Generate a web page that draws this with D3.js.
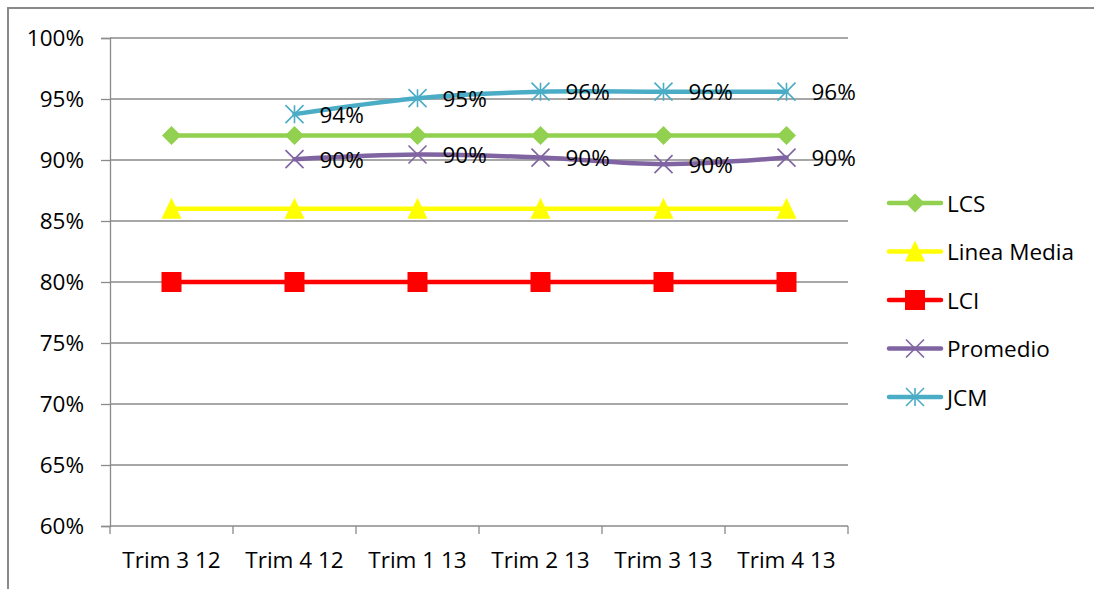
<!DOCTYPE html>
<html>
<head>
<meta charset="utf-8">
<script src="https://cdn.jsdelivr.net/npm/d3@7"></script>
<style>
  html, body { margin: 0; padding: 0; background: #fff; }
  svg { display: block; font-family: "Open Sans", "Liberation Sans", sans-serif; }
</style>
</head>
<body>
<svg id="chart" width="1094" height="589"></svg>
<script>
// Quarterly categories
const categories = ["Trim 3 12", "Trim 4 12", "Trim 1 13", "Trim 2 13", "Trim 3 13", "Trim 4 13"];

// Series values (fractions); null = no data for that quarter
const lcs        = [0.92, 0.92, 0.92, 0.92, 0.92, 0.92];
const lineaMedia = [0.86, 0.86, 0.86, 0.86, 0.86, 0.86];
const lci        = [0.80, 0.80, 0.80, 0.80, 0.80, 0.80];
const promedio   = [null, 0.9007, 0.9045, 0.902, 0.8966, 0.902];
const jcm        = [null, 0.9376, 0.9507, 0.956, 0.956, 0.956];

// Y axis tick values
const yTicks = [0.60, 0.65, 0.70, 0.75, 0.80, 0.85, 0.90, 0.95, 1.00];

const series = [
  { name: "LCS",         values: lcs,        color: "#92D050", marker: "diamond",  smooth: false, labels: false },
  { name: "Linea Media", values: lineaMedia, color: "#FFFF00", marker: "triangle", smooth: false, labels: false },
  { name: "LCI",         values: lci,        color: "#FF0000", marker: "square",   smooth: false, labels: false },
  { name: "Promedio",    values: promedio,   color: "#8064A2", marker: "x",        smooth: true,  labels: true },
  { name: "JCM",         values: jcm,        color: "#4BACC6", marker: "star",     smooth: true,  labels: true }
];

const FONT_SIZE = 22.5;

const svg = d3.select("#chart");
const plot = { left: 110, right: 848, top: 38, bottom: 526 };

// Outer frame (top and left edges)
svg.append("path")
  .attr("d", `M8,589 L8,8 L1094,8`)
  .attr("fill", "none")
  .attr("stroke", "#8a8a8a")
  .attr("stroke-width", 2);

const x = d3.scaleBand().domain(categories).range([plot.left, plot.right]).padding(0);
const y = d3.scaleLinear().domain([0.60, 1.00]).range([plot.bottom, plot.top]);
const cx = c => x(c) + x.bandwidth() / 2;

// Horizontal gridlines
svg.append("g")
  .selectAll("line")
  .data(yTicks.filter(t => t > 0.60))
  .join("line")
  .attr("x1", plot.left).attr("x2", plot.right)
  .attr("y1", d => y(d)).attr("y2", d => y(d))
  .attr("stroke", "#8a8a8a").attr("stroke-width", 1.3);

// Y axis
const yAxis = svg.append("g")
  .attr("transform", `translate(${plot.left},0)`)
  .call(d3.axisLeft(y).tickValues(yTicks).tickFormat(d3.format(".0%")).tickSize(9).tickPadding(17));
yAxis.select(".domain").attr("stroke", "#8a8a8a").attr("stroke-width", 1.3);
yAxis.selectAll(".tick line").attr("stroke", "#8a8a8a").attr("stroke-width", 1.3);
yAxis.selectAll(".tick text")
  .attr("font-size", FONT_SIZE).attr("fill", "#000")
  .attr("font-family", "'Open Sans', sans-serif")
  .attr("dy", "0.35em");

// X axis with ticks at category boundaries
const xAxisG = svg.append("g").attr("transform", `translate(0,${plot.bottom})`);
xAxisG.append("line")
  .attr("x1", plot.left).attr("x2", plot.right)
  .attr("stroke", "#8a8a8a").attr("stroke-width", 1.3);
const boundaries = categories.map(c => x(c)).concat([plot.right]);
xAxisG.selectAll("line.tick")
  .data(boundaries)
  .join("line")
  .attr("class", "tick")
  .attr("x1", d => d).attr("x2", d => d)
  .attr("y1", 0).attr("y2", 8)
  .attr("stroke", "#8a8a8a").attr("stroke-width", 1.3);
xAxisG.selectAll("text")
  .data(categories)
  .join("text")
  .attr("x", d => cx(d))
  .attr("y", 42)
  .attr("text-anchor", "middle")
  .attr("font-size", FONT_SIZE)
  .text(d => d);

// Marker drawing
function drawMarker(g, type, color, px, py) {
  if (type === "diamond") {
    const s = 9.5;
    g.append("path").attr("d", `M${px},${py - s} L${px + s},${py} L${px},${py + s} L${px - s},${py} Z`).attr("fill", color);
  } else if (type === "triangle") {
    g.append("path").attr("d", `M${px},${py - 11} L${px + 10},${py + 10} L${px - 10},${py + 10} Z`).attr("fill", color);
  } else if (type === "square") {
    g.append("rect").attr("x", px - 10).attr("y", py - 10).attr("width", 20).attr("height", 20).attr("fill", color);
  } else if (type === "x") {
    const s = 9;
    g.append("path").attr("d", `M${px - s},${py - s} L${px + s},${py + s} M${px - s},${py + s} L${px + s},${py - s}`)
      .attr("stroke", color).attr("stroke-width", 1.6).attr("fill", "none");
  } else if (type === "star") {
    const s = 9;
    g.append("path").attr("d", `M${px - s},${py - s} L${px + s},${py + s} M${px - s},${py + s} L${px + s},${py - s} M${px},${py - s} L${px},${py + s}`)
      .attr("stroke", color).attr("stroke-width", 1.6).attr("fill", "none");
  }
}

// Series lines, markers, labels
series.forEach(s => {
  const pts = categories.map((c, i) => ({ c, v: s.values[i] })).filter(p => p.v !== null);
  const line = d3.line()
    .x(p => cx(p.c))
    .y(p => y(p.v))
    .curve(s.smooth ? d3.curveCatmullRom.alpha(0.5) : d3.curveLinear);
  const g = svg.append("g");
  g.append("path")
    .datum(pts)
    .attr("d", line)
    .attr("fill", "none")
    .attr("stroke", s.color)
    .attr("stroke-width", 4.5)
    .attr("stroke-linejoin", "round")
    .attr("stroke-linecap", "round");
  pts.forEach(p => drawMarker(g, s.marker, s.color, cx(p.c), y(p.v)));
  if (s.labels) {
    g.selectAll("text")
      .data(pts)
      .join("text")
      .attr("x", p => cx(p.c) + 25)
      .attr("y", p => y(p.v) + 8.5)
      .attr("font-size", FONT_SIZE)
      .attr("fill", "#000")
      .text(p => d3.format(".0%")(p.v));
  }
});

// Legend
const legend = svg.append("g");
series.forEach((s, i) => {
  const ly = 203 + i * 48.5;
  const g = legend.append("g");
  g.append("line")
    .attr("x1", 889).attr("x2", 941)
    .attr("y1", ly).attr("y2", ly)
    .attr("stroke", s.color).attr("stroke-width", 4.5).attr("stroke-linecap", "round");
  drawMarker(g, s.marker, s.color, 915, ly);
  g.append("text")
    .attr("x", 947).attr("y", ly + 8.5)
    .attr("font-size", FONT_SIZE)
    .text(s.name);
});
</script>
</body>
</html>
